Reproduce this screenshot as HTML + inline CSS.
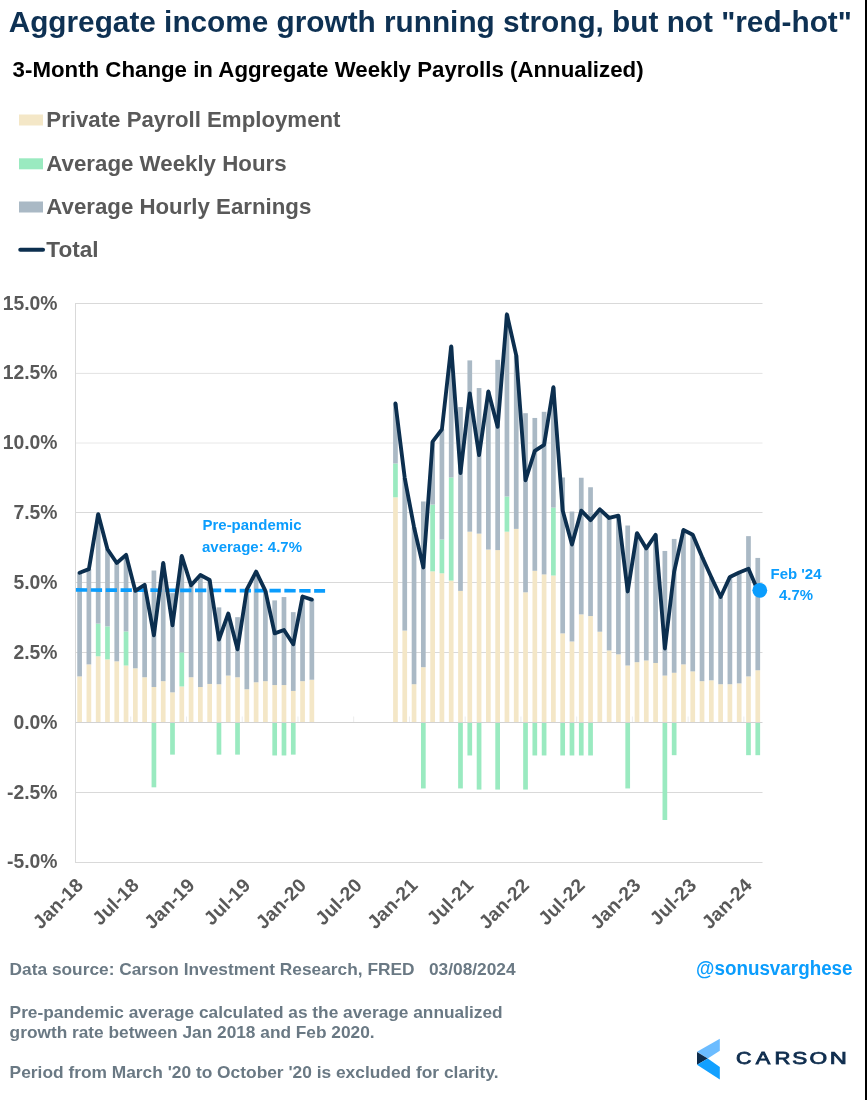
<!DOCTYPE html>
<html lang="en"><head><meta charset="utf-8"><title>Aggregate income growth</title>
<style>html,body{margin:0;padding:0;background:#fff}body{width:867px;height:1100px;overflow:hidden}svg{display:block;will-change:transform}text{font-family:"Liberation Sans",sans-serif;font-weight:bold}</style></head><body>
<svg width="867" height="1100" viewBox="0 0 867 1100">
<rect x="0" y="0" width="867" height="1100" fill="#ffffff"/>
<rect x="865" y="0" width="2" height="1100" fill="#000000"/>
<text x="8.7" y="32.1" font-size="29" fill="#0e3153" textLength="843.2" lengthAdjust="spacingAndGlyphs">Aggregate income growth running strong, but not "red-hot"</text>
<text x="12.6" y="76.6" font-size="22" fill="#000000" textLength="631" lengthAdjust="spacingAndGlyphs">3-Month Change in Aggregate Weekly Payrolls (Annualized)</text>
<rect x="19" y="114.5" width="24" height="11" fill="#f4e7c7"/>
<rect x="19" y="158.3" width="24" height="11" fill="#9aeac0"/>
<rect x="19" y="201.5" width="24" height="11" fill="#aab9c5"/>
<line x1="20.3" y1="249.8" x2="43" y2="249.8" stroke="#0c2f4f" stroke-width="4.1" stroke-linecap="round"/>
<text x="46.3" y="126.7" font-size="22" fill="#595959" textLength="294.2" lengthAdjust="spacingAndGlyphs">Private Payroll Employment</text>
<text x="46.3" y="171.2" font-size="22" fill="#595959" textLength="240.3" lengthAdjust="spacingAndGlyphs">Average Weekly Hours</text>
<text x="46.3" y="213.5" font-size="22" fill="#595959" textLength="265" lengthAdjust="spacingAndGlyphs">Average Hourly Earnings</text>
<text x="46.3" y="256.7" font-size="22" fill="#595959" textLength="52.3" lengthAdjust="spacingAndGlyphs">Total</text>
<line x1="75" y1="303.5" x2="762.5" y2="303.5" stroke="#d9d9d9" stroke-width="1"/>
<line x1="75" y1="373.4" x2="762.5" y2="373.4" stroke="#e2e2e2" stroke-width="1"/>
<line x1="75" y1="443" x2="762.5" y2="443" stroke="#e8e8e8" stroke-width="1"/>
<line x1="75" y1="512.5" x2="762.5" y2="512.5" stroke="#d9d9d9" stroke-width="1"/>
<line x1="75" y1="582.5" x2="762.5" y2="582.5" stroke="#d9d9d9" stroke-width="1"/>
<line x1="75" y1="652.5" x2="762.5" y2="652.5" stroke="#d9d9d9" stroke-width="1"/>
<line x1="75" y1="792.5" x2="762.5" y2="792.5" stroke="#d9d9d9" stroke-width="1"/>
<line x1="75" y1="862.5" x2="762.5" y2="862.5" stroke="#d9d9d9" stroke-width="1"/>
<line x1="75.5" y1="303" x2="75.5" y2="863" stroke="#d9d9d9" stroke-width="1"/>
<text x="57.5" y="309.6" font-size="19.35" fill="#595959" text-anchor="end">15.0%</text>
<text x="57.5" y="379.45" font-size="19.35" fill="#595959" text-anchor="end">12.5%</text>
<text x="57.5" y="449.3" font-size="19.35" fill="#595959" text-anchor="end">10.0%</text>
<text x="57.5" y="519.15" font-size="19.35" fill="#595959" text-anchor="end">7.5%</text>
<text x="57.5" y="589" font-size="19.35" fill="#595959" text-anchor="end">5.0%</text>
<text x="57.5" y="658.85" font-size="19.35" fill="#595959" text-anchor="end">2.5%</text>
<text x="57.5" y="728.7" font-size="19.35" fill="#595959" text-anchor="end">0.0%</text>
<text x="57.5" y="798.55" font-size="19.35" fill="#595959" text-anchor="end">-2.5%</text>
<text x="57.5" y="868.4" font-size="19.35" fill="#595959" text-anchor="end">-5.0%</text>
<g fill="#f4e7c7"><rect x="77.25" y="676.4" width="4.7" height="46.1"/><rect x="86.54" y="664.38" width="4.7" height="58.12"/><rect x="95.83" y="656.28" width="4.7" height="66.22"/><rect x="105.12" y="659.36" width="4.7" height="63.14"/><rect x="114.41" y="661.31" width="4.7" height="61.19"/><rect x="123.7" y="665.5" width="4.7" height="57"/><rect x="132.99" y="668.3" width="4.7" height="54.2"/><rect x="142.28" y="677.24" width="4.7" height="45.26"/><rect x="151.57" y="687.02" width="4.7" height="35.48"/><rect x="160.86" y="681.15" width="4.7" height="41.35"/><rect x="170.15" y="692.32" width="4.7" height="30.18"/><rect x="179.44" y="686.46" width="4.7" height="36.04"/><rect x="188.73" y="677.24" width="4.7" height="45.26"/><rect x="198.02" y="687.02" width="4.7" height="35.48"/><rect x="207.31" y="683.94" width="4.7" height="38.56"/><rect x="216.6" y="684.22" width="4.7" height="38.28"/><rect x="225.89" y="675.56" width="4.7" height="46.94"/><rect x="235.18" y="677.24" width="4.7" height="45.26"/><rect x="244.47" y="689.25" width="4.7" height="33.25"/><rect x="253.76" y="682.27" width="4.7" height="40.23"/><rect x="263.05" y="681.15" width="4.7" height="41.35"/><rect x="272.34" y="685.06" width="4.7" height="37.44"/><rect x="281.63" y="685.06" width="4.7" height="37.44"/><rect x="290.92" y="690.93" width="4.7" height="31.57"/><rect x="300.21" y="681.15" width="4.7" height="41.35"/><rect x="309.5" y="679.75" width="4.7" height="42.75"/><rect x="393.11" y="497.3" width="4.7" height="225.2"/><rect x="402.4" y="630.58" width="4.7" height="91.92"/><rect x="411.69" y="684.22" width="4.7" height="38.28"/><rect x="420.98" y="667.18" width="4.7" height="55.32"/><rect x="430.27" y="571.34" width="4.7" height="151.16"/><rect x="439.56" y="573.3" width="4.7" height="149.2"/><rect x="448.85" y="580.56" width="4.7" height="141.94"/><rect x="458.14" y="590.9" width="4.7" height="131.6"/><rect x="467.43" y="531.67" width="4.7" height="190.83"/><rect x="476.72" y="533.63" width="4.7" height="188.87"/><rect x="486.01" y="549.55" width="4.7" height="172.95"/><rect x="495.3" y="550.11" width="4.7" height="172.39"/><rect x="504.59" y="531.67" width="4.7" height="190.83"/><rect x="513.88" y="528.88" width="4.7" height="193.62"/><rect x="523.17" y="592.3" width="4.7" height="130.2"/><rect x="532.46" y="570.79" width="4.7" height="151.71"/><rect x="541.75" y="574.42" width="4.7" height="148.08"/><rect x="551.04" y="575.54" width="4.7" height="146.96"/><rect x="560.33" y="633.37" width="4.7" height="89.13"/><rect x="569.62" y="641.47" width="4.7" height="81.03"/><rect x="578.91" y="614.37" width="4.7" height="108.13"/><rect x="588.2" y="616.05" width="4.7" height="106.45"/><rect x="597.49" y="631.69" width="4.7" height="90.81"/><rect x="606.78" y="650.41" width="4.7" height="72.09"/><rect x="616.07" y="654.33" width="4.7" height="68.17"/><rect x="625.36" y="665.5" width="4.7" height="57"/><rect x="634.65" y="662.15" width="4.7" height="60.35"/><rect x="643.94" y="660.47" width="4.7" height="62.03"/><rect x="653.23" y="662.99" width="4.7" height="59.51"/><rect x="662.52" y="675.56" width="4.7" height="46.94"/><rect x="671.81" y="672.77" width="4.7" height="49.73"/><rect x="681.1" y="664.38" width="4.7" height="58.12"/><rect x="690.39" y="671.37" width="4.7" height="51.13"/><rect x="699.68" y="681.15" width="4.7" height="41.35"/><rect x="708.97" y="680.31" width="4.7" height="42.19"/><rect x="718.26" y="684.22" width="4.7" height="38.28"/><rect x="727.55" y="684.22" width="4.7" height="38.28"/><rect x="736.84" y="683.38" width="4.7" height="39.12"/><rect x="746.13" y="676.4" width="4.7" height="46.1"/><rect x="755.42" y="670.25" width="4.7" height="52.25"/></g>
<g fill="#9aeac0"><rect x="95.83" y="623.59" width="4.7" height="32.69"/><rect x="105.12" y="626.39" width="4.7" height="32.97"/><rect x="123.7" y="631.42" width="4.7" height="34.09"/><rect x="151.57" y="723" width="4.7" height="64.32"/><rect x="170.15" y="723" width="4.7" height="31.63"/><rect x="179.44" y="652.37" width="4.7" height="34.09"/><rect x="216.6" y="723" width="4.7" height="31.63"/><rect x="235.18" y="723" width="4.7" height="31.63"/><rect x="272.34" y="723" width="4.7" height="32.47"/><rect x="281.63" y="723" width="4.7" height="32.47"/><rect x="290.92" y="723" width="4.7" height="31.63"/><rect x="393.11" y="463.5" width="4.7" height="33.81"/><rect x="420.98" y="723" width="4.7" height="65.44"/><rect x="430.27" y="504.57" width="4.7" height="66.78"/><rect x="439.56" y="539.49" width="4.7" height="33.81"/><rect x="448.85" y="477.47" width="4.7" height="103.1"/><rect x="458.14" y="723" width="4.7" height="65.44"/><rect x="467.43" y="723" width="4.7" height="32.47"/><rect x="476.72" y="723" width="4.7" height="66.56"/><rect x="495.3" y="723" width="4.7" height="66.56"/><rect x="504.59" y="496.47" width="4.7" height="35.2"/><rect x="523.17" y="723" width="4.7" height="66.56"/><rect x="532.46" y="723" width="4.7" height="32.47"/><rect x="541.75" y="723" width="4.7" height="32.47"/><rect x="551.04" y="507.64" width="4.7" height="67.89"/><rect x="560.33" y="723" width="4.7" height="32.47"/><rect x="569.62" y="723" width="4.7" height="32.47"/><rect x="578.91" y="723" width="4.7" height="32.47"/><rect x="588.2" y="723" width="4.7" height="32.47"/><rect x="625.36" y="723" width="4.7" height="65.44"/><rect x="662.52" y="723" width="4.7" height="97.01"/><rect x="671.81" y="723" width="4.7" height="32.19"/><rect x="746.13" y="723" width="4.7" height="32.19"/><rect x="755.42" y="723" width="4.7" height="32.19"/></g>
<g fill="#aab9c5"><rect x="77.25" y="572.74" width="4.7" height="103.66"/><rect x="86.54" y="569.11" width="4.7" height="95.28"/><rect x="95.83" y="514.07" width="4.7" height="109.52"/><rect x="105.12" y="549.27" width="4.7" height="77.11"/><rect x="114.41" y="562.96" width="4.7" height="98.35"/><rect x="123.7" y="554.86" width="4.7" height="76.56"/><rect x="132.99" y="590.9" width="4.7" height="77.39"/><rect x="142.28" y="584.76" width="4.7" height="92.48"/><rect x="151.57" y="570.51" width="4.7" height="116.51"/><rect x="160.86" y="562.96" width="4.7" height="118.19"/><rect x="170.15" y="593.14" width="4.7" height="99.19"/><rect x="179.44" y="555.98" width="4.7" height="96.39"/><rect x="188.73" y="585.31" width="4.7" height="91.92"/><rect x="198.02" y="574.98" width="4.7" height="112.04"/><rect x="207.31" y="580.01" width="4.7" height="103.94"/><rect x="216.6" y="607.39" width="4.7" height="76.84"/><rect x="225.89" y="613.53" width="4.7" height="62.03"/><rect x="235.18" y="617.17" width="4.7" height="60.07"/><rect x="244.47" y="589.51" width="4.7" height="99.75"/><rect x="253.76" y="571.62" width="4.7" height="110.64"/><rect x="263.05" y="590.9" width="4.7" height="90.25"/><rect x="272.34" y="600.4" width="4.7" height="84.66"/><rect x="281.63" y="597.05" width="4.7" height="88.01"/><rect x="290.92" y="612.14" width="4.7" height="78.79"/><rect x="300.21" y="596.49" width="4.7" height="84.66"/><rect x="309.5" y="599.56" width="4.7" height="80.19"/><rect x="393.11" y="403.43" width="4.7" height="60.07"/><rect x="402.4" y="478.02" width="4.7" height="152.55"/><rect x="411.69" y="527.2" width="4.7" height="157.02"/><rect x="420.98" y="501.49" width="4.7" height="165.68"/><rect x="430.27" y="441.7" width="4.7" height="62.87"/><rect x="439.56" y="429.41" width="4.7" height="110.08"/><rect x="448.85" y="346.43" width="4.7" height="131.04"/><rect x="458.14" y="407.06" width="4.7" height="183.85"/><rect x="467.43" y="360.4" width="4.7" height="171.27"/><rect x="476.72" y="388.06" width="4.7" height="145.57"/><rect x="486.01" y="391.41" width="4.7" height="158.14"/><rect x="495.3" y="359.84" width="4.7" height="190.27"/><rect x="504.59" y="314.3" width="4.7" height="182.17"/><rect x="513.88" y="355.37" width="4.7" height="173.51"/><rect x="523.17" y="413.2" width="4.7" height="179.1"/><rect x="532.46" y="417.95" width="4.7" height="152.83"/><rect x="541.75" y="411.81" width="4.7" height="162.61"/><rect x="551.04" y="387.22" width="4.7" height="120.42"/><rect x="560.33" y="477.47" width="4.7" height="155.91"/><rect x="569.62" y="511.55" width="4.7" height="129.92"/><rect x="578.91" y="477.75" width="4.7" height="136.63"/><rect x="588.2" y="487.25" width="4.7" height="128.8"/><rect x="597.49" y="509.32" width="4.7" height="122.38"/><rect x="606.78" y="517.98" width="4.7" height="132.44"/><rect x="616.07" y="515.74" width="4.7" height="138.58"/><rect x="625.36" y="525.52" width="4.7" height="139.98"/><rect x="634.65" y="533.07" width="4.7" height="129.08"/><rect x="643.94" y="548.43" width="4.7" height="112.04"/><rect x="653.23" y="534.74" width="4.7" height="128.24"/><rect x="662.52" y="550.95" width="4.7" height="124.61"/><rect x="671.81" y="538.93" width="4.7" height="133.83"/><rect x="681.1" y="529.99" width="4.7" height="134.39"/><rect x="690.39" y="534.74" width="4.7" height="136.63"/><rect x="699.68" y="556.82" width="4.7" height="124.33"/><rect x="708.97" y="577.21" width="4.7" height="103.1"/><rect x="718.26" y="597.05" width="4.7" height="87.17"/><rect x="727.55" y="576.93" width="4.7" height="107.29"/><rect x="736.84" y="572.46" width="4.7" height="110.92"/><rect x="746.13" y="536.14" width="4.7" height="140.26"/><rect x="755.42" y="557.93" width="4.7" height="112.32"/></g>
<g stroke="#ececec" stroke-width="1"><line x1="130.74" y1="716.5" x2="130.74" y2="722.5"/><line x1="186.48" y1="716.5" x2="186.48" y2="722.5"/><line x1="242.22" y1="716.5" x2="242.22" y2="722.5"/><line x1="297.96" y1="716.5" x2="297.96" y2="722.5"/><line x1="353.7" y1="716.5" x2="353.7" y2="722.5"/><line x1="409.44" y1="716.5" x2="409.44" y2="722.5"/><line x1="465.18" y1="716.5" x2="465.18" y2="722.5"/><line x1="520.92" y1="716.5" x2="520.92" y2="722.5"/><line x1="576.66" y1="716.5" x2="576.66" y2="722.5"/><line x1="632.4" y1="716.5" x2="632.4" y2="722.5"/><line x1="688.14" y1="716.5" x2="688.14" y2="722.5"/><line x1="743.88" y1="716.5" x2="743.88" y2="722.5"/></g>
<line x1="75.5" y1="722.5" x2="762.5" y2="722.5" stroke="#d2d2d2" stroke-width="1"/>
<line x1="75.9" y1="589.95" x2="325.1" y2="590.85" stroke="#0b9dfd" stroke-width="3.7" stroke-dasharray="11.3 3.59"/>
<polyline points="79.6,572.74 88.89,569.11 98.18,514.07 107.47,549.27 116.76,562.96 126.05,554.86 135.34,590.9 144.63,584.76 153.92,635.33 163.21,562.96 172.5,625.27 181.79,555.98 191.08,585.31 200.37,574.98 209.66,580.01 218.95,639.52 228.24,613.53 237.53,649.3 246.82,589.51 256.11,571.62 265.4,590.9 274.69,633.37 283.98,630.02 293.27,644.27 302.56,596.49 311.85,599.56" fill="none" stroke="#0c2f4f" stroke-width="3.85" stroke-linejoin="round" stroke-linecap="round"/>
<polyline points="395.46,403.43 404.75,478.02 414.04,527.2 423.33,567.43 432.62,441.7 441.91,429.41 451.2,346.43 460.49,473 469.78,393.37 479.07,455.11 488.36,391.41 497.65,426.89 506.94,314.3 516.23,355.37 525.52,480.26 534.81,450.92 544.1,444.78 553.39,387.22 562.68,510.44 571.97,544.52 581.26,510.71 590.55,520.21 599.84,509.32 609.13,517.98 618.42,515.74 627.71,591.46 637,533.07 646.29,548.43 655.58,534.74 664.87,648.46 674.16,571.62 683.45,529.99 692.74,534.74 702.03,556.82 711.32,577.21 720.61,597.05 729.9,576.93 739.19,572.46 748.48,568.83 757.77,590.62" fill="none" stroke="#0c2f4f" stroke-width="3.85" stroke-linejoin="round" stroke-linecap="round"/>
<circle cx="759.8" cy="590.3" r="7.4" fill="#0b9dfd"/>
<text x="252" y="530" font-size="14.6" fill="#0b9dfd" text-anchor="middle" textLength="99" lengthAdjust="spacingAndGlyphs">Pre-pandemic</text>
<text x="252" y="552" font-size="14.6" fill="#0b9dfd" text-anchor="middle" textLength="100" lengthAdjust="spacingAndGlyphs">average: 4.7%</text>
<text x="796" y="579" font-size="14.6" fill="#0b9dfd" text-anchor="middle" textLength="51" lengthAdjust="spacingAndGlyphs">Feb '24</text>
<text x="796" y="600" font-size="14.6" fill="#0b9dfd" text-anchor="middle" textLength="34" lengthAdjust="spacingAndGlyphs">4.7%</text>
<text transform="translate(84.4 886.4) rotate(-45)" font-size="19.2" letter-spacing="0.15" fill="#595959" text-anchor="end">Jan-18</text>
<text transform="translate(140.14 886.4) rotate(-45)" font-size="19.2" letter-spacing="0.15" fill="#595959" text-anchor="end">Jul-18</text>
<text transform="translate(195.88 886.4) rotate(-45)" font-size="19.2" letter-spacing="0.15" fill="#595959" text-anchor="end">Jan-19</text>
<text transform="translate(251.62 886.4) rotate(-45)" font-size="19.2" letter-spacing="0.15" fill="#595959" text-anchor="end">Jul-19</text>
<text transform="translate(307.36 886.4) rotate(-45)" font-size="19.2" letter-spacing="0.15" fill="#595959" text-anchor="end">Jan-20</text>
<text transform="translate(363.1 886.4) rotate(-45)" font-size="19.2" letter-spacing="0.15" fill="#595959" text-anchor="end">Jul-20</text>
<text transform="translate(418.84 886.4) rotate(-45)" font-size="19.2" letter-spacing="0.15" fill="#595959" text-anchor="end">Jan-21</text>
<text transform="translate(474.58 886.4) rotate(-45)" font-size="19.2" letter-spacing="0.15" fill="#595959" text-anchor="end">Jul-21</text>
<text transform="translate(530.32 886.4) rotate(-45)" font-size="19.2" letter-spacing="0.15" fill="#595959" text-anchor="end">Jan-22</text>
<text transform="translate(586.06 886.4) rotate(-45)" font-size="19.2" letter-spacing="0.15" fill="#595959" text-anchor="end">Jul-22</text>
<text transform="translate(641.8 886.4) rotate(-45)" font-size="19.2" letter-spacing="0.15" fill="#595959" text-anchor="end">Jan-23</text>
<text transform="translate(697.54 886.4) rotate(-45)" font-size="19.2" letter-spacing="0.15" fill="#595959" text-anchor="end">Jul-23</text>
<text transform="translate(753.28 886.4) rotate(-45)" font-size="19.2" letter-spacing="0.15" fill="#595959" text-anchor="end">Jan-24</text>
<text x="9.6" y="975.3" font-size="16.1" fill="#6a7984" textLength="506" lengthAdjust="spacingAndGlyphs" style="white-space:pre">Data source: Carson Investment Research, FRED   03/08/2024</text>
<text x="9.6" y="1018.3" font-size="16.1" fill="#6a7984" textLength="493" lengthAdjust="spacingAndGlyphs">Pre-pandemic average calculated as the average annualized</text>
<text x="9.6" y="1037.6" font-size="16.1" fill="#6a7984" textLength="365" lengthAdjust="spacingAndGlyphs">growth rate between Jan 2018 and Feb 2020.</text>
<text x="9.6" y="1077.5" font-size="16.1" fill="#6a7984" textLength="489" lengthAdjust="spacingAndGlyphs">Period from March '20 to October '20 is excluded for clarity.</text>
<text x="774.3" y="975.4" font-size="20" fill="#0b9dfd" text-anchor="middle" textLength="156.5" lengthAdjust="spacingAndGlyphs">@sonusvarghese</text>
<polygon points="697,1051.8 719.8,1038.7 719.8,1050.8 707.8,1058.4" fill="#6cbcff"/>
<polygon points="697,1052 707.8,1058.4 697,1064.8" fill="#0d2b4b"/>
<polygon points="697,1064.8 707.8,1058.4 719.8,1067 719.8,1079.4" fill="#12a0ff"/>
<text transform="translate(743.8 1064.3) scale(1.36 1)" text-anchor="middle" font-size="15.8" fill="#0f2d4e" stroke="#0f2d4e" stroke-width="0.75" style="font-weight:normal">C</text>
<text transform="translate(763.1 1064.3) scale(1.38 1)" text-anchor="middle" font-size="15.8" fill="#0f2d4e" stroke="#0f2d4e" stroke-width="0.75" style="font-weight:normal">A</text>
<text transform="translate(782.4 1064.3) scale(1.4 1)" text-anchor="middle" font-size="15.8" fill="#0f2d4e" stroke="#0f2d4e" stroke-width="0.75" style="font-weight:normal">R</text>
<text transform="translate(799.8 1064.3) scale(1.42 1)" text-anchor="middle" font-size="15.8" fill="#0f2d4e" stroke="#0f2d4e" stroke-width="0.75" style="font-weight:normal">S</text>
<text transform="translate(818.4 1064.3) scale(1.44 1)" text-anchor="middle" font-size="15.8" fill="#0f2d4e" stroke="#0f2d4e" stroke-width="0.75" style="font-weight:normal">O</text>
<text transform="translate(838.2 1064.3) scale(1.5 1)" text-anchor="middle" font-size="15.8" fill="#0f2d4e" stroke="#0f2d4e" stroke-width="0.75" style="font-weight:normal">N</text>
</svg></body></html>
